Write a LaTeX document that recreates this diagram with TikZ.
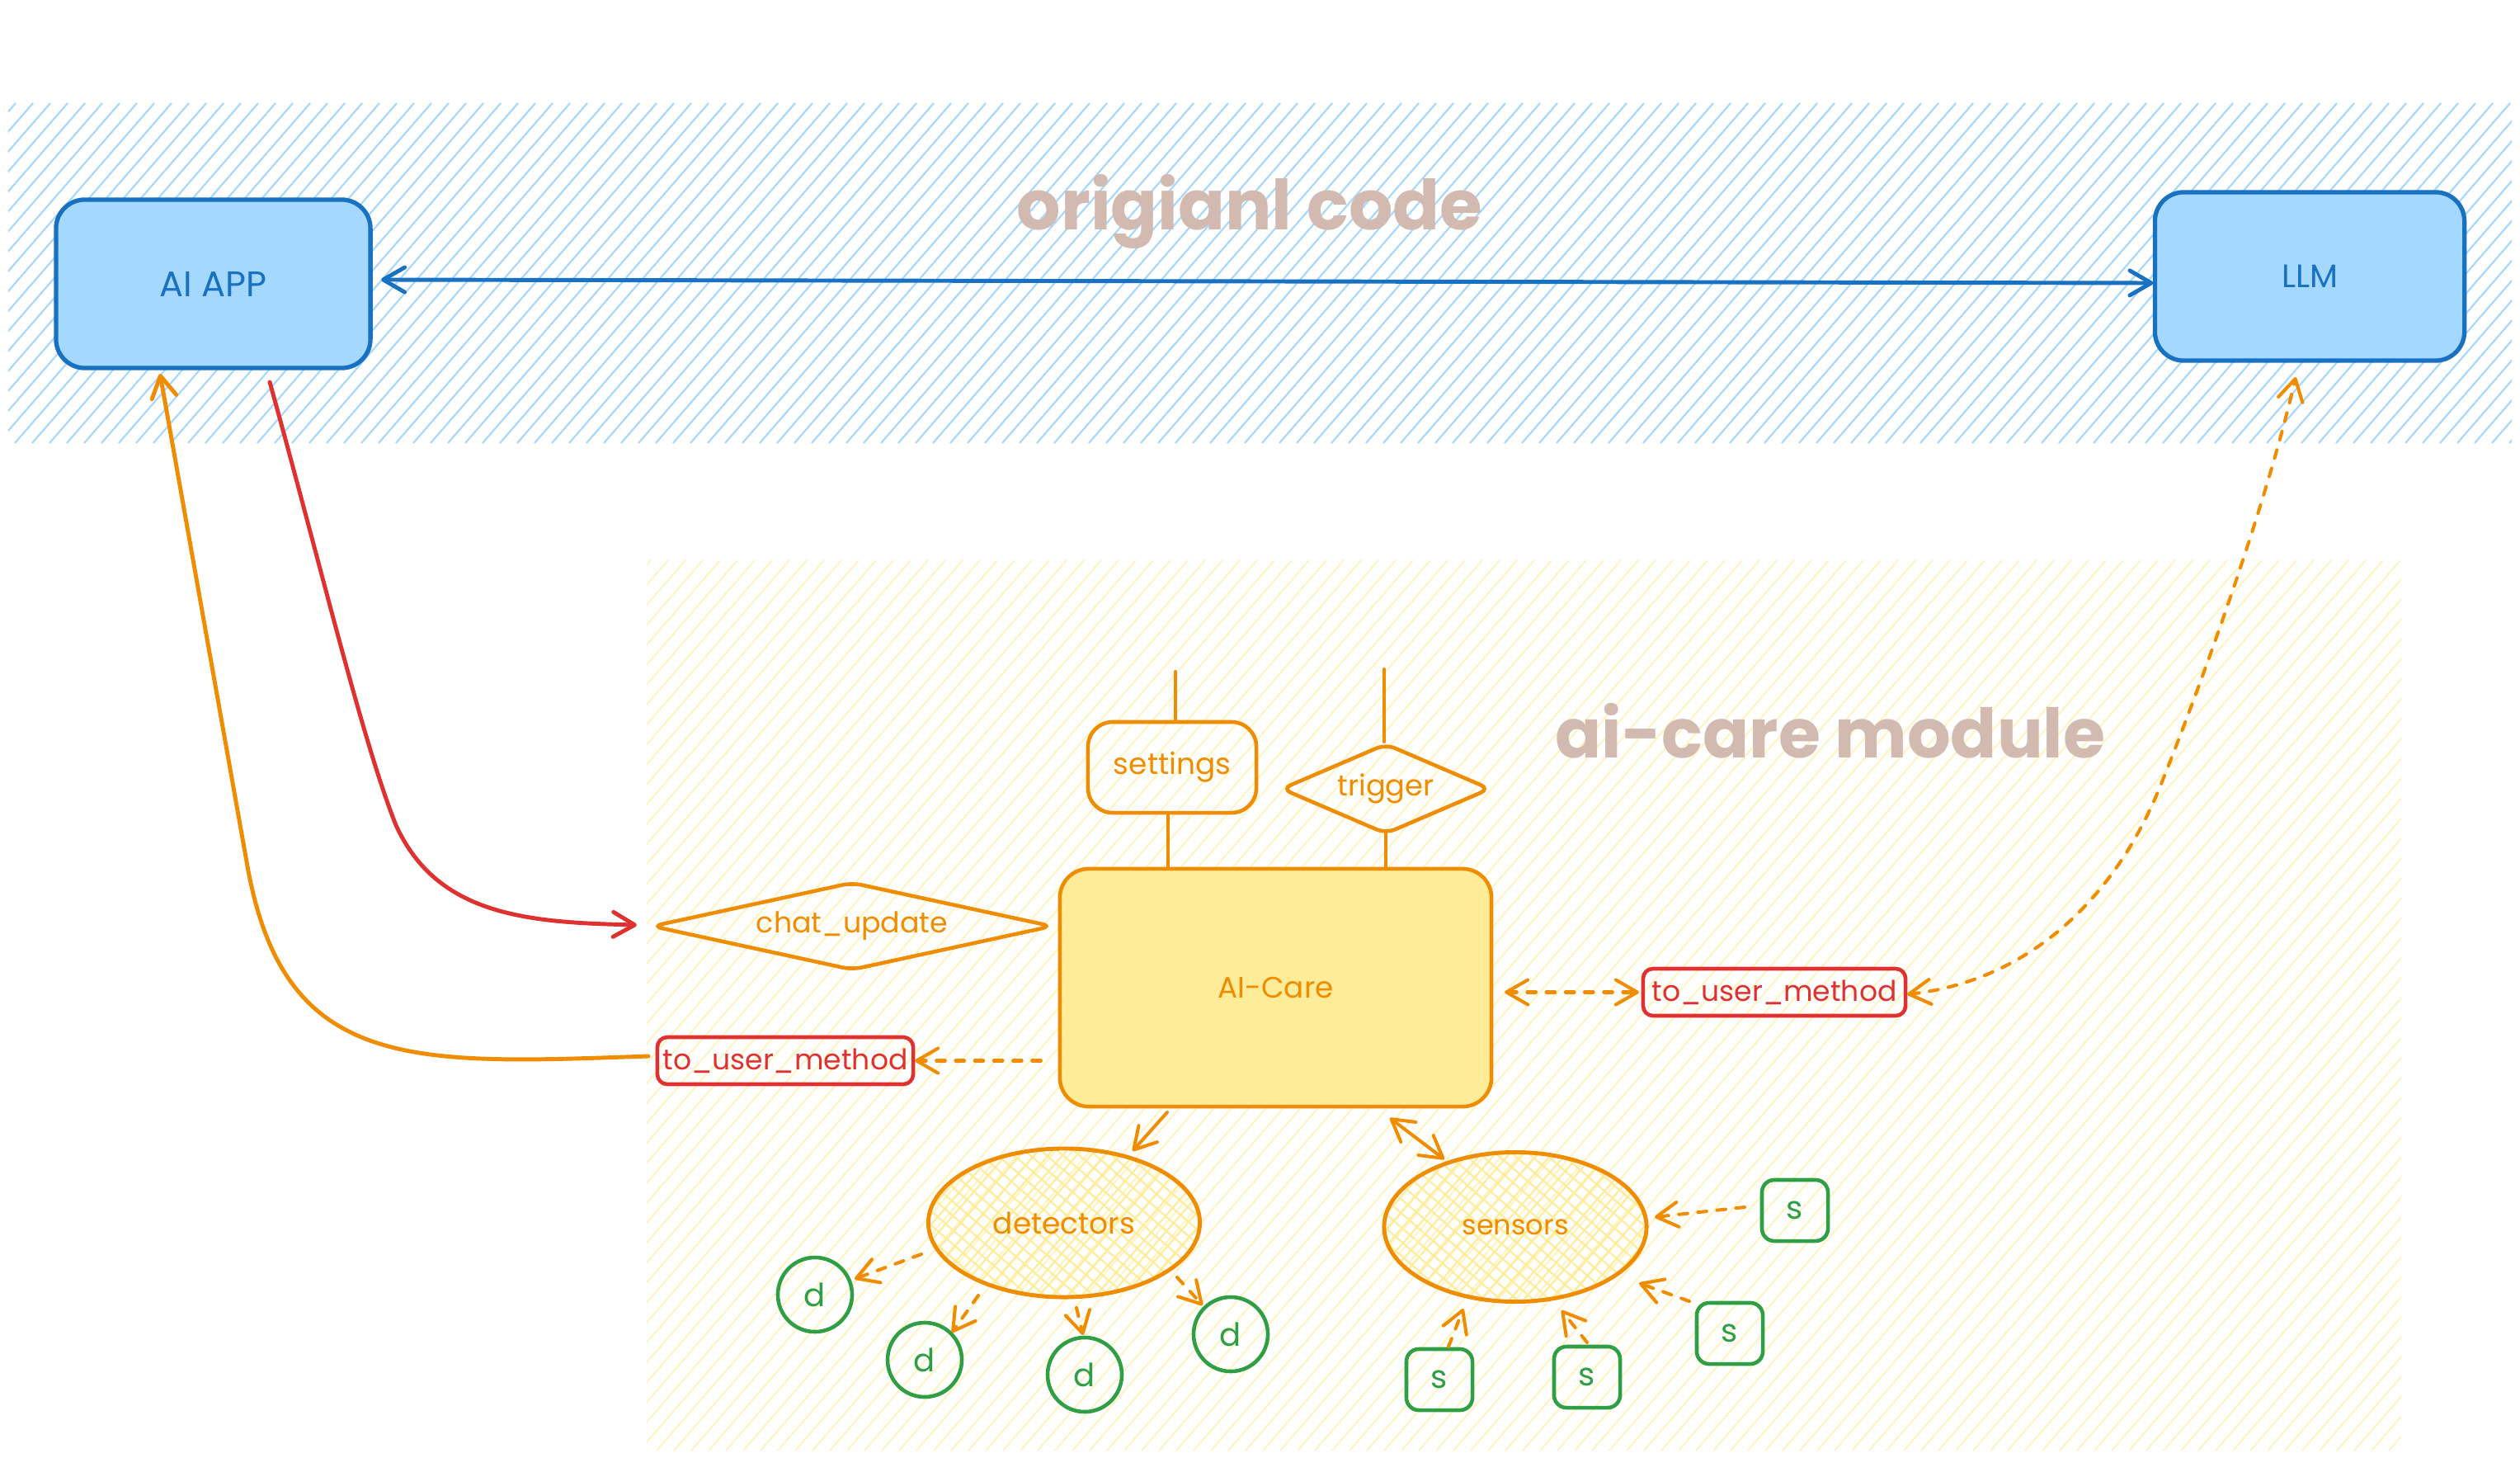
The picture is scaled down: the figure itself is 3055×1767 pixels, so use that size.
\documentclass[tikz,border=0pt]{standalone}
\usepackage{fontspec}
\setmainfont{Poppins}
\usepackage{graphicx}
\usetikzlibrary{arrows.meta,shapes.geometric,calc}
\definecolor{bstroke}{HTML}{1971C2}
\definecolor{bfill}{HTML}{A5D8FF}
\definecolor{ostroke}{HTML}{F08C00}
\definecolor{yfill}{HTML}{FFEC99}
\definecolor{yhatch}{HTML}{FFF4C2}
\definecolor{rstroke}{HTML}{E03131}
\definecolor{gstroke}{HTML}{2F9E44}
\definecolor{tanc}{HTML}{D2BAB0}
\newcommand{\fw}[2]{\resizebox{#1}{!}{#2}}
\begin{document}
\begin{tikzpicture}[x=0.01cm,y=-0.01cm,
  >={Straight Barb[length=0.26cm,width=0.3cm,round]},
  every node/.style={inner sep=0pt,outer sep=0pt},
  bluebox/.style={draw=bstroke,fill=bfill,line width=1.5pt,rounded corners=0.35cm,text=bstroke},
  orbox/.style={draw=ostroke,line width=1.3pt,text=ostroke},
  redbox/.style={draw=rstroke,line width=1.3pt,rounded corners=0.12cm,text=rstroke},
  ell/.style={ellipse,draw=ostroke,line width=1.4pt,text=ostroke},
  dcirc/.style={circle,draw=gstroke,line width=1.3pt,minimum size=0.9cm,text=gstroke,font=\fontsize{11pt}{13pt}\selectfont},
  sbox/.style={draw=gstroke,line width=1.3pt,rounded corners=0.15cm,minimum width=0.8cm,minimum height=0.74cm,text=gstroke,font=\fontsize{11pt}{13pt}\selectfont},
  conn/.style={draw=ostroke,line width=1.15pt,line cap=round,line join=round},
  dashconn/.style={conn,dash pattern=on 3pt off 3.6pt},
  hatchb/.style={draw=bfill,line width=0.6pt},
  hatchy/.style={draw=yhatch,line width=0.6pt},
  hatchx/.style={draw=yfill,line width=0.6pt},
  title/.style={anchor=base,text=tanc,font=\bfseries},
]
\useasboundingbox (0,0) rectangle (3055,1767);
\fill[white] (0,0) rectangle (3055,1767);

% blue band hatch
\begin{scope}
\clip (10,125) rectangle (3045,537);
\foreach \k in {0,...,182} \draw[hatchb] ({\k*21-360},537) -- ++(358,-412);
\end{scope}

% yellow module region hatch
\begin{scope}
\clip (784,679) rectangle (2911,1758);
\foreach \k in {0,...,152} \draw[hatchy] ({\k*21-170},1758) -- ++(938,-1079);
\end{scope}

% crosshatch inside detectors / sensors
\begin{scope}
\clip (1290,1482) ellipse [x radius=1.645cm, y radius=0.9cm];
\foreach \k in {0,...,32} \draw[hatchx] ({1125-175+\k*17.2},1590) -- ++(175,-200);
\foreach \k in {0,...,32} \draw[hatchx] ({1125-230+\k*19.8},1385) -- ++(230,200);
\end{scope}
\begin{scope}
\clip (1837,1487) ellipse [x radius=1.59cm, y radius=0.905cm];
\foreach \k in {0,...,32} \draw[hatchx] ({1678-175+\k*17.2},1595) -- ++(175,-200);
\foreach \k in {0,...,32} \draw[hatchx] ({1678-230+\k*19.8},1390) -- ++(230,200);
\end{scope}

% titles
\node[title] (t1) at (1515,278) {\fw{5.64cm}{origianl code}};
\node[title] (t2) at (2219,918) {\fw{6.66cm}{ai-care module}};

% nodes
\node[bluebox,minimum width=3.81cm,minimum height=2.04cm] (aiapp) at (258.5,344) {\fw{1.30cm}{AI APP}};
\node[bluebox,minimum width=3.75cm,minimum height=2.04cm] (llm) at (2800,335) {\fw{0.68cm}{LLM}};
\node[orbox,rounded corners=0.3cm,minimum width=2.04cm,minimum height=1.10cm] (settings) at (1421,930) {\fw{1.42cm}{settings}};
\node[orbox,diamond,aspect=2.33,rounded corners=0.12cm,minimum width=2.52cm,minimum height=1.08cm] (trigger) at (1680,956) {\fw{1.17cm}{trigger}};
\node[orbox,fill=yfill,rounded corners=0.35cm,minimum width=5.23cm,minimum height=2.88cm] (aicare) at (1546.5,1197) {\fw{1.40cm}{AI-Care}};
\node[orbox,diamond,aspect=4.6,rounded corners=0.12cm,minimum width=4.84cm,minimum height=1.05cm] (chat) at (1033,1122.5) {\fw{2.32cm}{chat\_update}};
\node[redbox,minimum width=3.10cm,minimum height=0.57cm] (tul) at (952,1285.5) {\fw{2.97cm}{to\_user\_method}};
\node[redbox,minimum width=3.18cm,minimum height=0.57cm] (tur) at (2151,1202.5) {\fw{2.97cm}{to\_user\_method}};
\node[ell,minimum width=3.29cm,minimum height=1.80cm] (det) at (1290,1482) {\fw{1.72cm}{detectors}};
\node[ell,minimum width=3.18cm,minimum height=1.81cm] (sen) at (1837,1487) {\fw{1.29cm}{sensors}};
\node[dcirc] (d1) at (988,1569) {d};
\node[dcirc] (d2) at (1121,1648) {d};
\node[dcirc] (d3) at (1315,1666) {d};
\node[dcirc] (d4) at (1492,1617) {d};
\node[sbox] (s1) at (2176,1467) {s};
\node[sbox] (s2) at (2097,1616) {s};
\node[sbox] (s3) at (1745,1672) {s};
\node[sbox] (s4) at (1924,1669) {s};

% free ends
\coordinate (settop) at (1425,814);
\coordinate (trigtop) at (1678,811);

% plain lines
\draw[conn] (settop) -- (settop |- settings.north);
\draw[conn] (trigtop) -- ([yshift=0.03cm]trigtop |- trigger.north);
\draw[conn] ([xshift=-0.05cm]settings.south) -- ([xshift=-0.05cm]settings.south |- aicare.north);
\draw[conn] (trigger.south) -- (trigger.south |- aicare.north);

% blue double arrow
\draw[draw=bstroke,line width=1.4pt,line cap=round,<->] ([shift={(13,-5)}]aiapp.east) -- ([shift={(-2,8)}]llm.west);

% red curve AI APP -> chat_update
\draw[draw=rstroke,line width=1.4pt,line cap=round,->] ($(aiapp.south)+(68.5,17)$) .. controls (390,690) and (440,900) .. (480,1000) .. controls (530,1110) and (640,1118) .. ($(chat.west)+(-19,-1.5)$);

% orange curve to_user_method -> AI APP
\draw[conn,line width=1.4pt,->] ($(tul.west)+(-11,-5.5)$) .. controls (500,1290) and (345,1300) .. (300,1050) -- ($(aiapp.south)+(-64.5,7)$);

% dashed AI-Care -> to_user_method (left)
\draw[dashconn,->] ([xshift=-0.23cm]aicare.west |- tul.east) -- ([xshift=0.02cm]tul.east);
% dashed AI-Care <-> to_user_method (right)
\draw[dashconn,<->] ([xshift=0.16cm]aicare.east |- tur.west) -- ([xshift=-0.05cm]tur.west);
% dashed to_user_method (right) <-> LLM
\draw[dashconn,<->] ($(tur.east)+(2,2.5)$) .. controls (2450,1190) and (2560,1100) .. (2620,950) .. controls (2680,800) and (2750,600) .. ($(llm.south)+(-17,20)$);

% AI-Care -> detectors, AI-Care <-> sensors
\draw[conn,->] ($(aicare.center)+(-131.5,151)$) -- ($(det.center)+(83,-87)$);
\draw[conn,<->] ($(aicare.center)+(138.5,158)$) -- ($(sen.center)+(-86,-82)$);

% detectors -> d
\draw[dashconn,->] ($(det.center)+(-173,38)$) -- ($(d1.center)+(48,-19)$);
\draw[dashconn,->] ($(det.center)+(-104,88)$) -- ($(d2.center)+(33,-33)$);
\draw[dashconn,->] ($(det.center)+(15,103)$) -- ($(d3.center)+(-2,-48)$);
\draw[dashconn,->] ($(det.center)+(137,66)$) -- ($(d4.center)+(-34,-35)$);

% s -> sensors
\draw[dashconn,->] ($(s1.center)+(-61,-4)$) -- ($(sen.center)+(169,-12)$);
\draw[dashconn,->] ($(s2.center)+(-49,-39)$) -- ($(sen.center)+(150,68)$);
\draw[dashconn,->] ($(s3.center)+(11,-40)$) -- ($(sen.center)+(-63,99)$);
\draw[dashconn,->] ($(s4.center)+(0,-42)$) -- ($(sen.center)+(56,101)$);
\end{tikzpicture}
\end{document}
